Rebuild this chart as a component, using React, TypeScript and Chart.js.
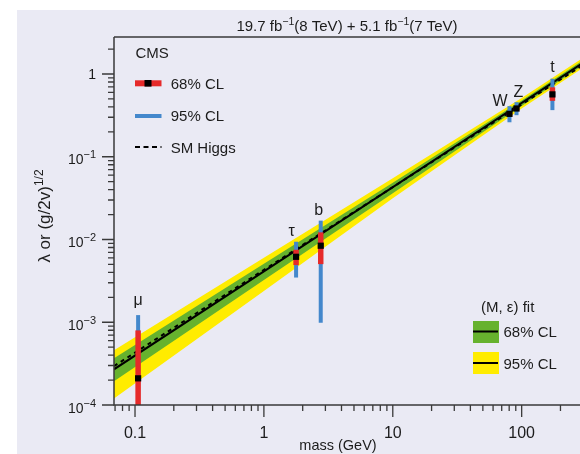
import { useEffect, useRef } from 'react';
import { Chart, registerables } from 'chart.js';

Chart.register(...registerables);

// ---- data ----
const particles = ['μ', 'τ', 'b', 'W', 'Z', 't'];
const particleMass = [0.1057, 1.777, 2.76, 80.4, 91.19, 173.2];
const coupling = [2.1e-4, 6.18e-3, 8.41e-3, 0.33, 0.383, 0.567];
const cl68Low = [1e-4, 4.91e-3, 5.04e-3, 0.315, 0.37, 0.474];
const cl68High = [7.97e-4, 7.52e-3, 1.22e-2, 0.345, 0.395, 0.69];
const cl95Low = [1e-4, 3.47e-3, 9.86e-4, 0.261, 0.318, 0.366];
const cl95High = [1.22e-3, 9.4e-3, 1.69e-2, 0.409, 0.457, 0.877];

const bandMass = [0.0687, 1, 10, 100, 310];
const band95High = [4.59e-4, 6.01e-3, 0.0551, 0.513, 1.623];
const band95Low = [1.2e-4, 2.39e-3, 0.0315, 0.382, 1.228];
const band68High = [3.67e-4, 5.08e-3, 0.0486, 0.478, 1.514];
const band68Low = [1.93e-4, 3.25e-3, 0.0363, 0.41, 1.317];

const fitMass = [0.0687, 1, 310];
const fitCoupling = [2.7e-4, 4.12e-3, 1.411];
const smMass = [0.0687, 310];
const smCoupling = [2.95e-4, 1.33];

const xTickValues = [0.1, 1, 10, 100];
const xTickLabels = ['0.1', '1', '10', '100'];
const yTickExponents = [-4, -3, -2, -1, 0];

const X_MIN = 0.0687;
const X_MAX = 310;
const Y_MIN = 1e-4;
const Y_MAX = 2.8;

// ---- styles ----
const FONT = "'Liberation Sans', Arial, sans-serif";
const BG = '#eaeaf4';
const TEXT = '#1c1c1c';
const AXIS = '#3a3a3a';
const YELLOW = '#ffec00';
const GREEN = '#66b22e';
const RED = '#e62a2a';
const BLUE = '#4488cc';
const labelDx = [0, -4.5, -2, -9.5, 2, 0];
const labelDy = [10, 6, 6, 0.5, 5, 7];

type Part = [string, boolean];

function drawRich(ctx: any, parts: Part[], x: number, y: number, align: string, size: number, supSize: number, rise: number) {
  const widths = parts.map(([t, s]) => {
    ctx.font = `${s ? supSize : size}px ${FONT}`;
    return ctx.measureText(t).width;
  });
  const total = widths.reduce((a, b) => a + b, 0);
  let cx = align === 'center' ? x - total / 2 : align === 'right' ? x - total : x;
  ctx.textAlign = 'left';
  ctx.textBaseline = 'alphabetic';
  parts.forEach(([t, s], i) => {
    ctx.font = `${s ? supSize : size}px ${FONT}`;
    ctx.fillText(t, cx, s ? y - rise : y);
    cx += widths[i];
  });
}

const decorPlugin = {
  id: 'decor',
  beforeDraw(chart: any) {
    const { ctx, width, height } = chart;
    ctx.save();
    ctx.fillStyle = '#ffffff';
    ctx.fillRect(0, 0, width, height);
    ctx.fillStyle = BG;
    ctx.fillRect(17, 10, width - 17, height - 10);
    ctx.restore();
  },
  afterDatasetsDraw(chart: any) {
    const { ctx, scales } = chart;
    ctx.save();
    ctx.fillStyle = TEXT;
    ctx.font = `16px ${FONT}`;
    ctx.textAlign = 'center';
    ctx.textBaseline = 'alphabetic';
    particles.forEach((p, i) => {
      const px = scales.x.getPixelForValue(particleMass[i]);
      const py = scales.y.getPixelForValue(cl95High[i]);
      ctx.fillText(p, px + labelDx[i], py - labelDy[i]);
    });
    ctx.restore();
  },
  afterDraw(chart: any) {
    const { ctx, chartArea: a, scales, width } = chart;
    const xs = scales.x;
    const ys = scales.y;
    ctx.save();
    // frame
    ctx.strokeStyle = AXIS;
    ctx.lineWidth = 1.5;
    ctx.beginPath();
    ctx.moveTo(a.left, a.top);
    ctx.lineTo(width, a.top);
    ctx.moveTo(a.left, a.top);
    ctx.lineTo(a.left, a.bottom);
    ctx.lineTo(width, a.bottom);
    ctx.stroke();
    // ticks
    ctx.lineWidth = 1.3;
    ctx.beginPath();
    for (let e = -2; e <= 2; e++) {
      for (let k = 1; k <= 9; k++) {
        const v = k * Math.pow(10, e);
        if (v < X_MIN * 0.999 || v > X_MAX) continue;
        const px = xs.getPixelForValue(v);
        ctx.moveTo(px, a.bottom);
        ctx.lineTo(px, a.bottom + (k === 1 ? 12 : 6));
      }
    }
    for (let e = -4; e <= 0; e++) {
      for (let k = 1; k <= 9; k++) {
        const v = k * Math.pow(10, e);
        if (v < Y_MIN * 0.999 || v > Y_MAX) continue;
        const py = ys.getPixelForValue(v);
        ctx.moveTo(a.left, py);
        ctx.lineTo(a.left - (k === 1 ? 12 : 6), py);
      }
    }
    ctx.stroke();
    // tick labels
    ctx.fillStyle = TEXT;
    ctx.font = `16px ${FONT}`;
    ctx.textAlign = 'center';
    ctx.textBaseline = 'alphabetic';
    xTickValues.forEach((v, i) => {
      ctx.fillText(xTickLabels[i], xs.getPixelForValue(v), 438);
    });
    yTickExponents.forEach((e) => {
      const py = ys.getPixelForValue(Math.pow(10, e));
      if (e === 0) {
        drawRich(ctx, [['1', false]], a.left - 18, py + 5, 'right', 14, 11, 6);
      } else {
        drawRich(ctx, [['10', false], ['\u2212' + String(-e), true]], a.left - 18, py + 7.5, 'right', 14, 11, 6);
      }
    });
    // title
    drawRich(
      ctx,
      [['19.7 fb', false], ['\u22121', true], ['(8 TeV) + 5.1 fb', false], ['\u22121', true], ['(7 TeV)', false]],
      347, 30.7, 'center', 15, 10.5, 6
    );
    // axis titles
    ctx.font = `14.5px ${FONT}`;
    ctx.textAlign = 'center';
    ctx.fillText('mass (GeV)', 338, 450);
    ctx.save();
    ctx.translate(50, 216);
    ctx.rotate(-Math.PI / 2);
    drawRich(ctx, [['λ or (g/2v)', false], ['1/2', true]], 0, 0, 'center', 17, 12, 7);
    ctx.restore();
    // legend top-left
    ctx.fillStyle = TEXT;
    ctx.font = `15px ${FONT}`;
    ctx.textAlign = 'left';
    ctx.fillText('CMS', 135.5, 57.5);
    ctx.fillStyle = RED;
    ctx.fillRect(135, 80.3, 26.5, 6);
    ctx.fillStyle = '#000';
    ctx.fillRect(144.5, 80, 7, 6.6);
    ctx.fillStyle = BLUE;
    ctx.fillRect(135, 114, 26.5, 4);
    ctx.strokeStyle = '#000';
    ctx.lineWidth = 2;
    ctx.setLineDash([5, 3.5]);
    ctx.beginPath();
    ctx.moveTo(135, 147);
    ctx.lineTo(161.5, 147);
    ctx.stroke();
    ctx.setLineDash([]);
    ctx.fillStyle = TEXT;
    ctx.font = `15px ${FONT}`;
    ctx.fillText('68% CL', 170.7, 88.7);
    ctx.fillText('95% CL', 170.7, 121);
    ctx.fillText('SM Higgs', 170.7, 152.5);
    // legend bottom-right
    ctx.fillText('(M, \u03b5) fit', 481, 311.5);
    ctx.fillStyle = GREEN;
    ctx.fillRect(473, 321, 26, 22);
    ctx.fillStyle = YELLOW;
    ctx.fillRect(473, 352, 26, 22);
    ctx.strokeStyle = '#000';
    ctx.lineWidth = 2;
    ctx.beginPath();
    ctx.moveTo(473, 331.5);
    ctx.lineTo(498, 331.5);
    ctx.moveTo(473, 363);
    ctx.lineTo(498, 363);
    ctx.stroke();
    ctx.fillStyle = TEXT;
    ctx.fillText('68% CL', 503.5, 336.5);
    ctx.fillText('95% CL', 503.5, 368.5);
    ctx.restore();
  },
};

export default function App() {
  const ref = useRef<HTMLCanvasElement>(null);
  useEffect(() => {
    const canvas = ref.current;
    if (!canvas) return;
    const pts = (xs: number[], ys: number[]) => xs.map((x, i) => ({ x, y: ys[i] }));
    const lineDs = (label: string, xs: number[], ys: number[], extra: any) => ({
      type: 'line',
      label,
      data: pts(xs, ys),
      pointRadius: 0,
      borderWidth: 1,
      borderColor: 'rgba(0,0,0,0)',
      fill: false,
      tension: 0,
      ...extra,
    });
    const datasets: any[] = [
      lineDs('95% band high', bandMass, band95High, { fill: 1, backgroundColor: YELLOW, order: 100 }),
      lineDs('95% band low', bandMass, band95Low, { order: 99 }),
      lineDs('68% band high', bandMass, band68High, { fill: 3, backgroundColor: GREEN, order: 98 }),
      lineDs('68% band low', bandMass, band68Low, { order: 97 }),
      lineDs('fit', fitMass, fitCoupling, { borderColor: '#000', borderWidth: 2, order: 50 }),
      lineDs('SM Higgs', smMass, smCoupling, { borderColor: '#000', borderWidth: 2, borderDash: [4, 4], order: 49 }),
      ...particles.map((p, i) =>
        lineDs(p + ' 95%', [particleMass[i], particleMass[i]], [cl95Low[i], cl95High[i]], { borderColor: BLUE, borderWidth: 4, order: 20 })
      ),
      ...particles.map((p, i) =>
        lineDs(p + ' 68%', [particleMass[i], particleMass[i]], [cl68Low[i], cl68High[i]], { borderColor: RED, borderWidth: 5.5, order: 10 })
      ),
      {
        type: 'line',
        label: 'central',
        data: pts(particleMass, coupling),
        showLine: false,
        pointStyle: 'rect',
        pointRadius: 4.4,
        pointBackgroundColor: '#000',
        pointBorderWidth: 0,
        pointBorderColor: '#000',
        order: 0,
      },
    ];
    const chart = new Chart(canvas, {
      type: 'line',
      data: { datasets },
      options: {
        animation: false,
        responsive: false,
        maintainAspectRatio: false,
        devicePixelRatio: 1,
        events: [],
        layout: { padding: { left: 114, top: 37, right: 15, bottom: 49 } },
        scales: {
          x: { type: 'logarithmic', min: X_MIN, max: X_MAX, display: false },
          y: { type: 'logarithmic', min: Y_MIN, max: Y_MAX, display: false },
        },
        plugins: {
          legend: { display: false },
          tooltip: { enabled: false },
          title: { display: false },
        },
      } as any,
      plugins: [decorPlugin as any],
    });
    return () => chart.destroy();
  }, []);
  return (
    <div style={{ position: 'fixed', left: 0, top: 0, width: 580, height: 454, overflow: 'hidden' }}>
      <canvas ref={ref} width={600} height={454} style={{ display: 'block', width: 600, height: 454 }} />
    </div>
  );
}
